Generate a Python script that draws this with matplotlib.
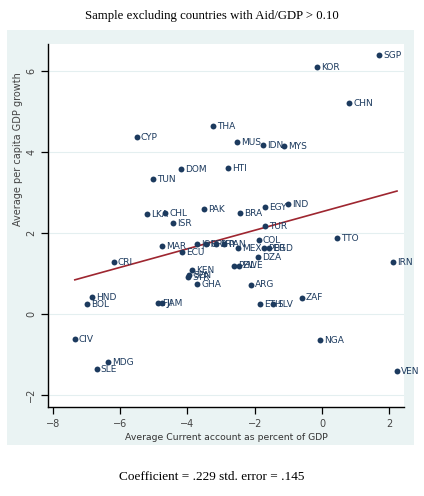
import numpy as np
import matplotlib
matplotlib.use("Agg")
import matplotlib.pyplot as plt
from matplotlib.patches import Rectangle

# country codes and values
codes = ['SGP', 'KOR', 'CHN', 'THA', 'CYP', 'MUS', 'IDN', 'MYS', 'DOM', 'HTI',
         'TUN', 'LKA', 'CHL', 'PAK', 'ISR', 'BRA', 'EGY', 'IND', 'TUR', 'TTO',
         'IRN', 'MAR', 'ECU', 'JOR', 'URY', 'PRY', 'PAN', 'MEX', 'COL', 'PER',
         'BGD', 'DZA', 'CRI', 'KEN', 'SEN', 'SYR', 'GHA', 'PHL', 'ZWE', 'ARG',
         'ZAF', 'ETH', 'SLV', 'FJI', 'JAM', 'HND', 'BOL', 'CIV', 'MDG', 'SLE',
         'NGA', 'VEN']
current_account = [1.70, -0.15, 0.80, -3.24, -5.51, -2.53, -1.76, -1.13, -4.20, -2.80,
                   -5.03, -5.21, -4.67, -3.51, -4.43, -2.44, -1.70, -1.01, -1.70, 0.45,
                   2.11, -4.76, -4.17, -3.72, -3.45, -3.15, -2.92, -2.50, -1.88, -1.73,
                   -1.58, -1.90, -6.19, -3.87, -3.96, -3.99, -3.72, -2.62, -2.47, -2.11,
                   -0.60, -1.85, -1.46, -4.88, -4.76, -6.85, -6.99, -7.35, -6.37, -6.70,
                   -0.06, 2.23]
gdp_growth = [6.40, 6.10, 5.21, 4.64, 4.37, 4.25, 4.17, 4.15, 3.58, 3.60,
              3.33, 2.47, 2.49, 2.59, 2.25, 2.49, 2.64, 2.72, 2.17, 1.88,
              1.28, 1.68, 1.53, 1.73, 1.73, 1.73, 1.73, 1.63, 1.83, 1.63,
              1.63, 1.41, 1.28, 1.09, 0.96, 0.91, 0.74, 1.19, 1.19, 0.72,
              0.40, 0.25, 0.25, 0.27, 0.27, 0.42, 0.25, -0.62, -1.19, -1.36,
              -0.64, -1.41]

# fitted line
slope = 0.229
intercept = 2.53

navy = '#1c3a5e'
bg = '#eaf3f3'

fig = plt.figure(figsize=(4.24, 4.96), dpi=100)
fig.patch.set_facecolor('white')

# stata style outer panel
fig.patches.append(Rectangle((0.0165, 0.103), 0.96, 0.837, transform=fig.transFigure,
                             facecolor=bg, edgecolor='none', zorder=-10))

ax = fig.add_axes([0.113, 0.179, 0.84, 0.732])
ax.set_facecolor('white')

ax.set_xlim(-8.15, 2.44)
ax.set_ylim(-2.3, 6.67)

ax.set_yticks([-2, 0, 2, 4, 6])
ax.set_xticks([-8, -6, -4, -2, 0, 2])
for yv in [-2, 0, 2, 4, 6]:
    ax.axhline(yv, color='#e4eff0', lw=0.8, zorder=0)

ax.scatter(current_account, gdp_growth, s=18, color=navy, zorder=3, linewidths=0)
for c, xv, yv in zip(codes, current_account, gdp_growth):
    ax.annotate(c, (xv, yv), xytext=(3, 0), textcoords='offset points',
                va='center', ha='left', fontsize=6.5, color=navy,
                family=['Liberation Sans Narrow', 'DejaVu Sans'], zorder=4)

xs = np.array([min(current_account), max(current_account)])
ax.plot(xs, intercept + slope * xs, color='#9e2630', lw=1.2, zorder=2)

for s in ['top', 'right']:
    ax.spines[s].set_visible(False)
for s in ['left', 'bottom']:
    ax.spines[s].set_color('black')
    ax.spines[s].set_linewidth(1.0)

ax.tick_params(axis='both', direction='out', length=5, width=0.9, colors='black',
               labelcolor='#444444', labelsize=7)
plt.setp(ax.get_yticklabels(), rotation=90, va='center')

ax.set_xlabel('Average Current account as percent of GDP', fontsize=6.7, color='#333333',
              labelpad=3)
ax.set_ylabel('Average per capita GDP growth', fontsize=7, color='#444444', labelpad=1)
ax.yaxis.set_label_coords(-0.07, 0.71)

fig.text(0.5, 0.968, 'Sample excluding countries with Aid/GDP > 0.10', ha='center',
         va='center', fontsize=9.2, family='Liberation Serif')
fig.text(0.5, 0.038, 'Coefficient = .229 std. error = .145', ha='center',
         va='center', fontsize=9.5, family='Liberation Serif')

fig.savefig('out.png', dpi=100)
